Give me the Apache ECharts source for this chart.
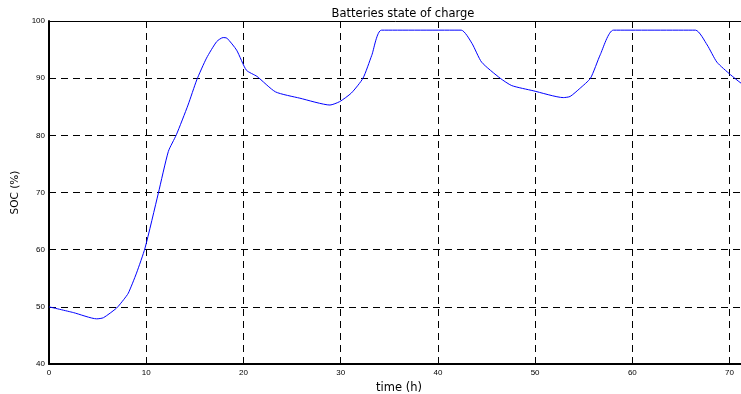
<!DOCTYPE html>
<html>
<head>
<meta charset="utf-8">
<script src="https://cdn.jsdelivr.net/npm/echarts@6/dist/echarts.min.js"></script>
<style>html,body{margin:0;padding:0;background:#fff}#c{width:741px;height:394px}</style>
</head>
<body>
<div id="c"></div>
<script>
const timeH = [0, 2.5, 4.9, 5.6, 6.96, 7.7, 8.16, 9.0, 9.88, 11.25, 12.28, 13.1, 14.3, 15.2, 16.2, 17.25, 17.9, 18.3, 19.3, 20.3, 21.4, 23.3, 25.8, 28.9, 29.9, 31.1, 32.3, 33.2, 34.2, 42.4, 43.5, 44.5, 46.4, 47.6, 49.8, 52.9, 53.6, 54.6, 55.7, 56.7, 58.05, 66.5, 67.7, 68.7, 70.1, 71.2, 72];
const socPct = [50.0, 49.0, 47.9, 48.1, 49.8, 51.3, 52.4, 55.9, 60.3, 69.9, 77.2, 80.1, 85.3, 89.7, 93.5, 96.4, 97.1, 97.0, 94.9, 91.4, 90.3, 87.6, 86.5, 85.3, 85.9, 87.4, 90.0, 94.0, 98.4, 98.4, 96.1, 92.8, 90.0, 88.7, 87.8, 86.6, 86.8, 88.2, 90.0, 94.1, 98.4, 98.4, 95.8, 92.8, 90.6, 89.1, 88.3];
const xTicks = [0, 10, 20, 30, 40, 50, 60, 70];
const yTicks = [40, 50, 60, 70, 80, 90, 100];
const titleText = 'Batteries state of charge';
const xName = 'time (h)';
const yName = 'SOC (%)';

const chart = echarts.init(document.getElementById('c'), null, {renderer: 'canvas'});
const font = 'Liberation Sans, Arial, sans-serif';
const wfont = 'DejaVu Sans, sans-serif';
chart.setOption({
  animation: false,
  title: {text: titleText, left: 398, top: 3, textAlign: 'center',
    textStyle: {fontFamily: wfont, fontSize: 11.5, fontWeight: 'normal', color: '#000'}},
  grid: {left: 49, top: 21, right: -8, bottom: 30, containLabel: false, outerBoundsMode: 'none'},
  xAxis: [{
    type: 'value', min: 0, max: 72, interval: 10,
    name: xName, nameLocation: 'middle', nameGap: 15,
    nameTextStyle: {fontFamily: wfont, fontSize: 11.5, color: '#000'},
    axisLine: {show: true, lineStyle: {color: '#000', width: 2}},
    axisTick: {show: true, inside: true, length: 5, lineStyle: {color: '#000'}},
    axisLabel: {fontFamily: font, fontSize: 8, color: '#000', margin: 5, showMaxLabel: false,
      formatter: v => xTicks.includes(v) ? String(v) : ''},
    splitLine: {show: true, lineStyle: {color: '#000', type: [7, 5], width: 1}}
  }, {
    type: 'value', position: 'top', min: 0, max: 72, interval: 10,
    axisLine: {show: true, lineStyle: {color: '#000', width: 1}},
    axisTick: {show: true, inside: true, length: 5, lineStyle: {color: '#000'}},
    axisLabel: {show: false}, splitLine: {show: false}
  }],
  yAxis: {
    type: 'value', min: 40, max: 100, interval: 10,
    name: yName, nameLocation: 'middle', nameGap: 24, nameRotate: 90,
    nameTextStyle: {fontFamily: wfont, fontSize: 10.5, color: '#000'},
    axisLine: {show: true, lineStyle: {color: '#000', width: 2}},
    axisTick: {show: true, inside: true, length: 5, lineStyle: {color: '#000'}},
    axisLabel: {fontFamily: font, fontSize: 8, color: '#000', margin: 4,
      formatter: v => yTicks.includes(v) ? String(v) : ''},
    splitLine: {show: true, lineStyle: {color: '#000', type: [7, 5], width: 1}}
  },
  series: [{
    type: 'line', data: timeH.map((t, i) => [t, socPct[i]]),
    showSymbol: false, smooth: 0.2, lineStyle: {color: '#0000ff', width: 1}, z: 5
  }]
});
</script>
</body>
</html>
